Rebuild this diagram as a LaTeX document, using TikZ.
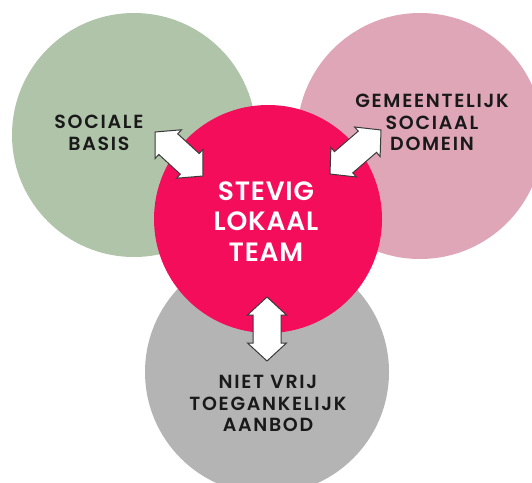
\documentclass[tikz,border=0pt]{standalone}
\usepackage{fontspec}
\usetikzlibrary{calc}
\newfontfamily\labelfont{Poppins}[UprightFont=* SemiBold, LetterSpace=9]
\newfontfamily\teamfont{Poppins}[UprightFont=* SemiBold, LetterSpace=3]

\definecolor{sagegreen}{HTML}{B0C4AA}
\definecolor{dustypink}{HTML}{DEA6B7}
\definecolor{hotpink}{HTML}{F40D5B}
\definecolor{lightgray}{HTML}{B4B4B4}
\definecolor{arrowline}{HTML}{3A3A3A}

% white double block arrow between two named points
\newcommand\blockarrow[2]{%
  \coordinate (h1) at ($(#1)!18pt!(#2)$);
  \coordinate (h2) at ($(#2)!18pt!(#1)$);
  \draw[arrowstyle]
    (#1) -- ($(h1)!19.5pt!90:(#2)$) -- ($(h1)!14pt!90:(#2)$)
    -- ($(h2)!14pt!-90:(#1)$) -- ($(h2)!19.5pt!-90:(#1)$) -- (#2)
    -- ($(h2)!19.5pt!90:(#1)$) -- ($(h2)!14pt!90:(#1)$)
    -- ($(h1)!14pt!-90:(#2)$) -- ($(h1)!19.5pt!-90:(#2)$) -- cycle;
}

\tikzset{
  disc/.style={circle, inner sep=0pt, minimum size=#1},
  arrowstyle/.style={draw=arrowline, fill=white, line width=1pt, line join=miter},
  darklabel/.style={align=center, inner sep=0pt, text=black!90,
    font=\labelfont\fontsize{19}{21.5}\selectfont},
  teamlabel/.style={align=center, inner sep=0pt, text=white,
    font=\teamfont\fontsize{26.5}{30.5}\selectfont},
}

\begin{document}
\begin{tikzpicture}[x=1pt, y=-1pt]
  \useasboundingbox (0,0) rectangle (532,482);
  \clip (0,0) rectangle (532,482);

  % outer circles
  \node[disc=244pt, fill=sagegreen] (basis) at (134,135) {};
  \node[disc=246pt, fill=dustypink] (domein) at (420,136) {};
  \node[disc=244pt, fill=lightgray] (aanbod) at (267,372) {};
  % central circle
  \node[disc=228pt, fill=hotpink] (team) at (268,219) {};

  % labels
  \node[darklabel] (basislabel) at (99,133) {SOCIALE\\BASIS};
  \node[darklabel] (domeinlabel) at (432,122.5) {GEMEENTELIJK\\SOCIAAL\\DOMEIN};
  \node[darklabel] (aanbodlabel) at (268,403.5) {NIET VRIJ\\TOEGANKELIJK\\AANBOD};
  \node[teamlabel] (teamlabel) at (266,221.5) {STEVIG\\LOKAAL\\TEAM};

  % arrow end points
  \coordinate (la) at (155,132);
  \coordinate (lb) at (203,176);
  \coordinate (ra) at (330,174);
  \coordinate (rb) at (381,130);
  \coordinate (ba) at (267,297);
  \coordinate (bb) at (267,361);

  \blockarrow{la}{lb}
  \blockarrow{ra}{rb}
  \blockarrow{ba}{bb}
\end{tikzpicture}
\end{document}
